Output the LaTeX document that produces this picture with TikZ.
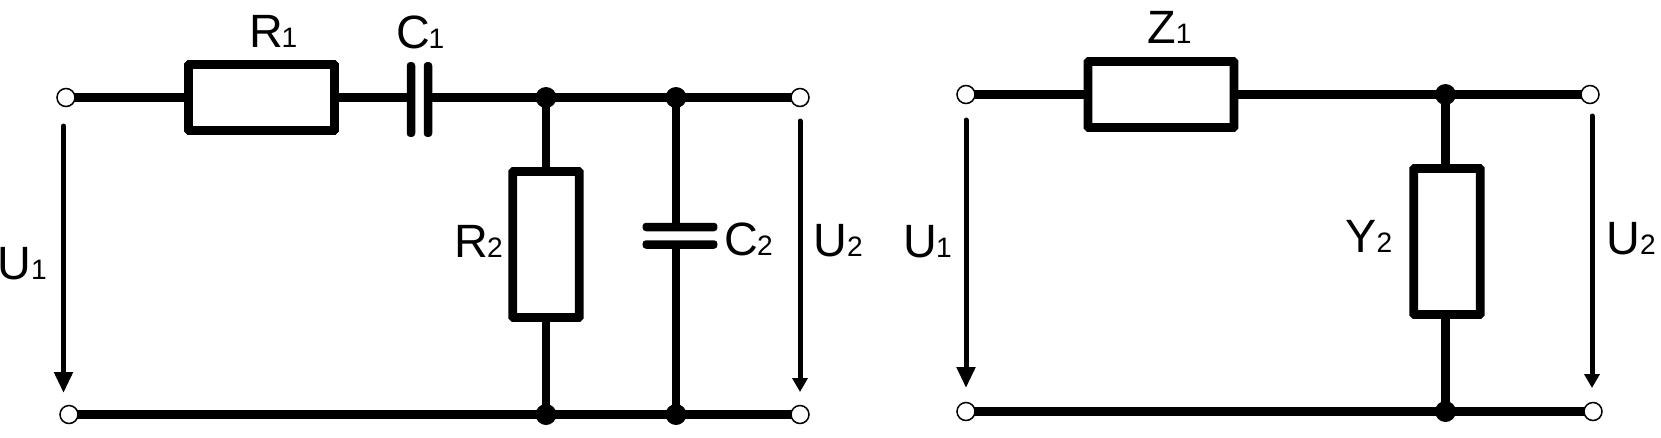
\documentclass[tikz,border=0pt]{standalone}
\usepackage{fontspec}
\setmainfont{Liberation Sans}
\usetikzlibrary{arrows.meta}
\pgfdeclarelayer{wires}
\pgfsetlayers{wires,main}
\newcommand{\lab}[2]{{\fontsize{26.6}{26.6}\selectfont #1}{\fontsize{16}{16}\selectfont #2}}
\tikzset{
    wire/.style={line width=0.175cm},
    hres/.style={draw,fill=white,line width=0.175cm,rounded corners=0.5pt,inner sep=0pt,minimum width=2.92cm,minimum height=1.32cm},
    vres/.style={draw,fill=white,line width=0.175cm,rounded corners=0.5pt,inner sep=0pt,minimum width=1.33cm,minimum height=2.92cm},
    term/.style={circle,draw,fill=white,line width=0.03cm,inner sep=0pt,minimum size=0.36cm},
    junc/.style={circle,fill=black,inner sep=0pt,minimum size=0.42cm},
    vplate/.style={fill=black,rounded corners=2pt,inner sep=0pt,minimum width=0.17cm,minimum height=1.5cm},
    hplate/.style={fill=black,rounded corners=2pt,inner sep=0pt,minimum width=1.5cm,minimum height=0.17cm},
    bigvolt/.style={line width=0.1cm,line cap=round,-{Triangle[length=0.42cm,width=0.36cm]}},
    smallvolt/.style={line width=0.1cm,line cap=round,-{Triangle[length=0.28cm,width=0.3cm]}},
    lbl/.style={anchor=base west,inner sep=0pt}
}
\begin{document}
\begin{tikzpicture}[x=0.02cm,y=-0.02cm]
    \useasboundingbox (0,0) rectangle (1661,437);

    % Left circuit
    \node[term] (inA) at (66,97.5) {};
    \node[term] (inB) at (69,414.5) {};
    \node[term] (outA) at (800,97.5) {};
    \node[term] (outB) at (800,414.5) {};
    \node[hres] (R1) at (261.5,97.5) {};
    \node[vplate] (C1a) at (411,99.5) {};
    \node[vplate] (C1b) at (428,99.5) {};
    \node[junc] (juncA) at (546,97.5) {};
    \node[junc] (juncB) at (546,414.5) {};
    \node[junc] (juncC) at (676,97.5) {};
    \node[junc] (juncD) at (676,414.5) {};
    \node[vres] (R2) at (546,244.5) {};
    \node[hplate] (C2a) at (680,227) {};
    \node[hplate] (C2b) at (680,244.5) {};

    \begin{pgfonlayer}{wires}
        \draw[wire] (inA.center) -- (R1.center);
        \draw[wire] (R1.center) -- (C1a.center |- R1.center);
        \draw[wire] (C1b.center |- juncA.center) -- (juncA.center);
        \draw[wire] (juncA.center) -- (juncC.center);
        \draw[wire] (juncC.center) -- (outA.center);
        \draw[wire] (inB.center) -- (juncB.center);
        \draw[wire] (juncB.center) -- (juncD.center);
        \draw[wire] (juncD.center) -- (outB.center);
        \draw[wire] (juncA.center) -- (juncB.center);
        \draw[wire] (juncC.center) -- (C2a.center -| juncC.center);
        \draw[wire] (C2b.center -| juncC.center) -- (juncD.center);
    \end{pgfonlayer}

    \coordinate (UaTop) at (63.5,126);
    \coordinate (UaBot) at (63.5,393);
    \coordinate (UbTop) at (800,121);
    \coordinate (UbBot) at (800,392);
    \draw[bigvolt] (UaTop) -- (UaBot);
    \draw[smallvolt] (UbTop) -- (UbBot);

    \node[lbl] (labR1) at (249,47) {\lab{R\kern-0.8pt}{1}};
    \node[lbl] (labC1) at (396,48) {\lab{C\kern-0.8pt}{1}};
    \node[lbl] (labR2) at (454,257) {\lab{R\kern-0.5pt}{2}};
    \node[lbl] (labC2) at (724,255) {\lab{C\kern-0.5pt}{2}};
    \node[lbl] (labUa) at (-3,279) {\lab{U}{1}};
    \node[lbl] (labUb) at (813,256) {\lab{U}{2}};

    % Right circuit
    \node[term] (inC) at (966,94.5) {};
    \node[term] (inD) at (966,411.5) {};
    \node[term] (outC) at (1590,94.5) {};
    \node[term] (outD) at (1593,411.5) {};
    \node[hres] (Z1) at (1161,94.5) {};
    \node[junc] (juncE) at (1445.5,94.5) {};
    \node[junc] (juncF) at (1445.5,411.5) {};
    \node[vres] (Y2) at (1447,241.5) {};

    \begin{pgfonlayer}{wires}
        \draw[wire] (inC.center) -- (juncE.center);
        \draw[wire] (juncE.center) -- (outC.center);
        \draw[wire] (inD.center) -- (juncF.center);
        \draw[wire] (juncF.center) -- (outD.center);
        \draw[wire] (juncE.center) -- (juncF.center);
    \end{pgfonlayer}

    \coordinate (UcTop) at (966,120);
    \coordinate (UcBot) at (966,388);
    \coordinate (UdTop) at (1592,116);
    \coordinate (UdBot) at (1592,388);
    \draw[bigvolt] (UcTop) -- (UcBot);
    \draw[smallvolt] (UdTop) -- (UdBot);

    \node[lbl] (labZ1) at (1147,43) {\lab{Z}{1}};
    \node[lbl] (labY2) at (1345,252) {\lab{Y}{2}};
    \node[lbl] (labUc) at (903,257) {\lab{U\kern-0.5pt}{1}};
    \node[lbl] (labUd) at (1606,254) {\lab{U}{2}};
\end{tikzpicture}
\end{document}
